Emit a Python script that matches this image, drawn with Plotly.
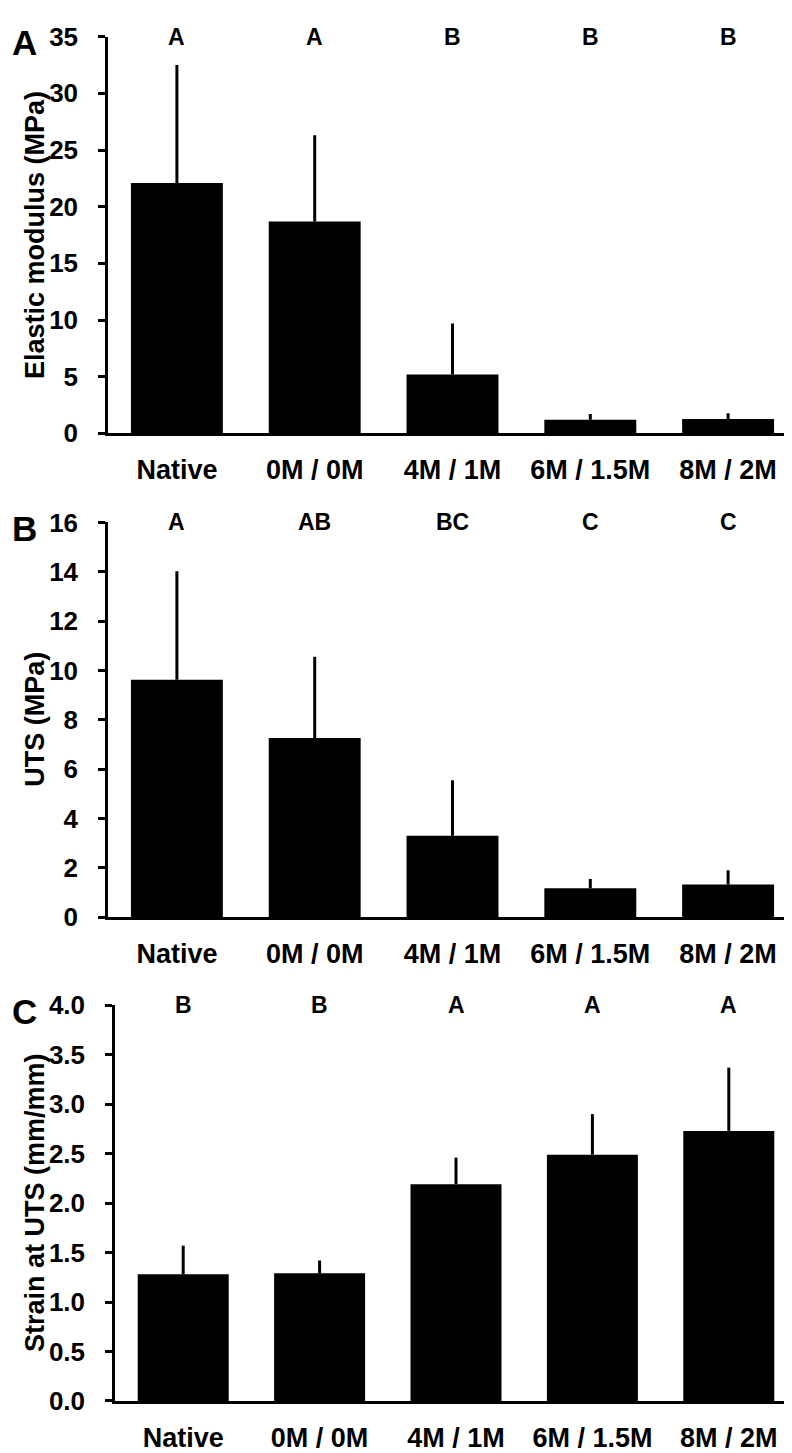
import plotly.graph_objects as go

# ---------------- data ----------------
categories = ["Native", "0M / 0M", "4M / 1M", "6M / 1.5M", "8M / 2M"]

modulus = [22.1, 18.7, 5.2, 1.2, 1.27]
modulus_err = [10.4, 7.6, 4.5, 0.5, 0.5]
modulus_letters = ["A", "A", "B", "B", "B"]

uts = [9.62, 7.26, 3.3, 1.17, 1.32]
uts_err = [4.4, 3.3, 2.25, 0.38, 0.58]
uts_letters = ["A", "AB", "BC", "C", "C"]

strain = [1.28, 1.29, 2.19, 2.49, 2.73]
strain_err = [0.29, 0.13, 0.27, 0.41, 0.64]
strain_letters = ["B", "B", "A", "A", "A"]

panel_labels = ["A", "B", "C"]
y_titles = ["Elastic modulus (MPa)", "UTS (MPa)", "Strain at UTS (mm/mm)"]
y_ranges = [[0, 35], [0, 16], [0, 4.0]]
y_dticks = [5, 2, 0.5]
y_formats = ["d", "d", ".1f"]

# ---------------- layout geometry ----------------
W, H = 792, 1453
FONT = "Arial, Liberation Sans, sans-serif"
# pixel positions (top, bottom) for each panel, and x-start of plot area
panel_px = [(14, 419, 100), (510, 913, 100), (1003, 1407, 107)]
x_right = 789

fig = go.Figure()
series = [(modulus, modulus_err, modulus_letters),
          (uts, uts_err, uts_letters),
          (strain, strain_err, strain_letters)]

annotations = []
for i, ((vals, errs, letters), (top, bot, xl)) in enumerate(zip(series, panel_px)):
    n = "" if i == 0 else str(i + 1)
    fig.add_trace(go.Bar(
        x=categories, y=vals,
        marker=dict(color="black", line=dict(width=0)),
        error_y=dict(type="data", array=errs, visible=True, color="black",
                     thickness=3, width=0, symmetric=False, arrayminus=[0]*len(errs)),
        xaxis="x" + n, yaxis="y" + n, showlegend=False,
    ))
    fig.update_layout(**{
        "xaxis" + n: dict(
            domain=[xl / W, x_right / W], anchor="y" + n,
            showline=True, linecolor="black", linewidth=2.5,
            ticks="", showgrid=False, zeroline=False,
            tickfont=dict(family=FONT, size=27, color="black", weight="bold"),
            ticklabelstandoff=11, fixedrange=True,
        ),
        "yaxis" + n: dict(
            domain=[1 - bot / H, 1 - top / H], anchor="x" + n,
            range=y_ranges[i], dtick=y_dticks[i], tick0=0, tickformat=y_formats[i],
            showline=True, linecolor="black", linewidth=2.5,
            ticks="outside", ticklen=7, tickwidth=2.5, tickcolor="black",
            showgrid=False, zeroline=False,
            tickfont=dict(family=FONT, size=26, color="black", weight="bold"),
            ticklabelstandoff=15, fixedrange=True,
        ),
    })
    # significance letters
    for c, l in zip(categories, letters):
        annotations.append(dict(
            x=c, y=y_ranges[i][1], xref="x" + n, yref="y" + n,
            text=l, showarrow=False, yanchor="middle",
            font=dict(family=FONT, size=23, color="black", weight="bold"),
        ))
    # y-axis title
    annotations.append(dict(
        x=27 / W, y=1 - (top + bot) / 2 / H, xref="paper", yref="paper",
        text=y_titles[i], textangle=-90, showarrow=False,
        xanchor="center", yanchor="middle",
        font=dict(family=FONT, size=27, color="black", weight="bold"),
    ))
    # panel letter
    annotations.append(dict(
        x=16 / W, y=1 - (top + 6) / H, xref="paper", yref="paper",
        text=panel_labels[i], showarrow=False,
        xanchor="center", yanchor="middle",
        font=dict(family=FONT, size=35, color="black", weight="bold"),
    ))

fig.update_layout(
    width=W, height=H,
    margin=dict(l=0, r=0, t=0, b=0),
    paper_bgcolor="white", plot_bgcolor="white",
    bargap=0.333,
    annotations=annotations,
    showlegend=False,
)

fig.write_html("out.html")
